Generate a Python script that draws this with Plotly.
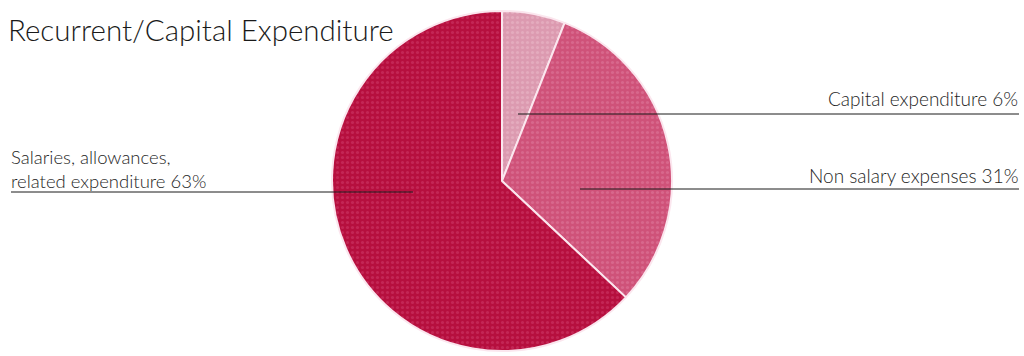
import plotly.graph_objects as go

categories = ["Capital expenditure", "Non salary expenses", "Salaries, allowances, related expenditure"]
values = [6, 31, 63]
label_texts = ["Capital expenditure 6%", "Non salary expenses 31%",
               "Salaries, allowances,<br>related expenditure 63%"]
colors = ["#dc9ab0", "#cf5279", "#b60f3e"]
pattern_colors = ["#e7b3c4", "#dc7194", "#c93060"]

W, H = 1024, 356

def px(x):
    return x / W

def py(y):
    return 1 - y / H

fig = go.Figure()
fig.add_trace(go.Pie(
    labels=categories,
    values=values,
    sort=False,
    direction="clockwise",
    rotation=0,
    textinfo="none",
    hoverinfo="label+percent",
    marker=dict(
        colors=colors,
        line=dict(color="#fbe6ee", width=2),
        pattern=dict(shape=".", fgcolor=pattern_colors, bgcolor=colors, size=5, solidity=0.3, fgopacity=0.7),
    ),
    domain=dict(x=[px(332), px(672)], y=[py(352), py(10)]),
    showlegend=False,
))

font_family = "Lato, 'Open Sans', sans-serif"
text_color = "#1e1e1e"
lab_font = dict(size=19, color=text_color, family=font_family, weight=300)

annotations = [
    dict(text="Recurrent/Capital Expenditure", x=px(6), y=py(30), xanchor="left", yanchor="middle",
         font=dict(size=29.5, color="#1a1a1a", family=font_family, weight=300)),
    dict(text=label_texts[0], x=px(1020), y=py(98), xanchor="right", yanchor="middle", font=lab_font),
    dict(text=label_texts[1], x=px(1020), y=py(175), xanchor="right", yanchor="middle", font=lab_font),
    dict(text=label_texts[2], x=px(9), y=py(168.5), xanchor="left", yanchor="middle", align="left",
         font=dict(size=18.5, color=text_color, family=font_family, weight=300)),
]
for a in annotations:
    a.update(xref="paper", yref="paper", showarrow=False)

line_style = dict(color="#1a1a1a", width=1)
shapes = [
    dict(type="line", xref="paper", yref="paper", x0=px(518), x1=px(1019), y0=py(114), y1=py(114), line=line_style),
    dict(type="line", xref="paper", yref="paper", x0=px(580), x1=px(1019), y0=py(189), y1=py(189), line=line_style),
    dict(type="line", xref="paper", yref="paper", x0=px(11), x1=px(413), y0=py(192), y1=py(192), line=line_style),
]

fig.update_layout(
    width=W, height=H,
    margin=dict(l=0, r=0, t=0, b=0),
    paper_bgcolor="white",
    plot_bgcolor="white",
    annotations=annotations,
    shapes=shapes,
)

fig.write_html("out.html", config={"displayModeBar": False},
               post_script="document.body.style.margin='0';document.body.style.overflow='hidden';")
